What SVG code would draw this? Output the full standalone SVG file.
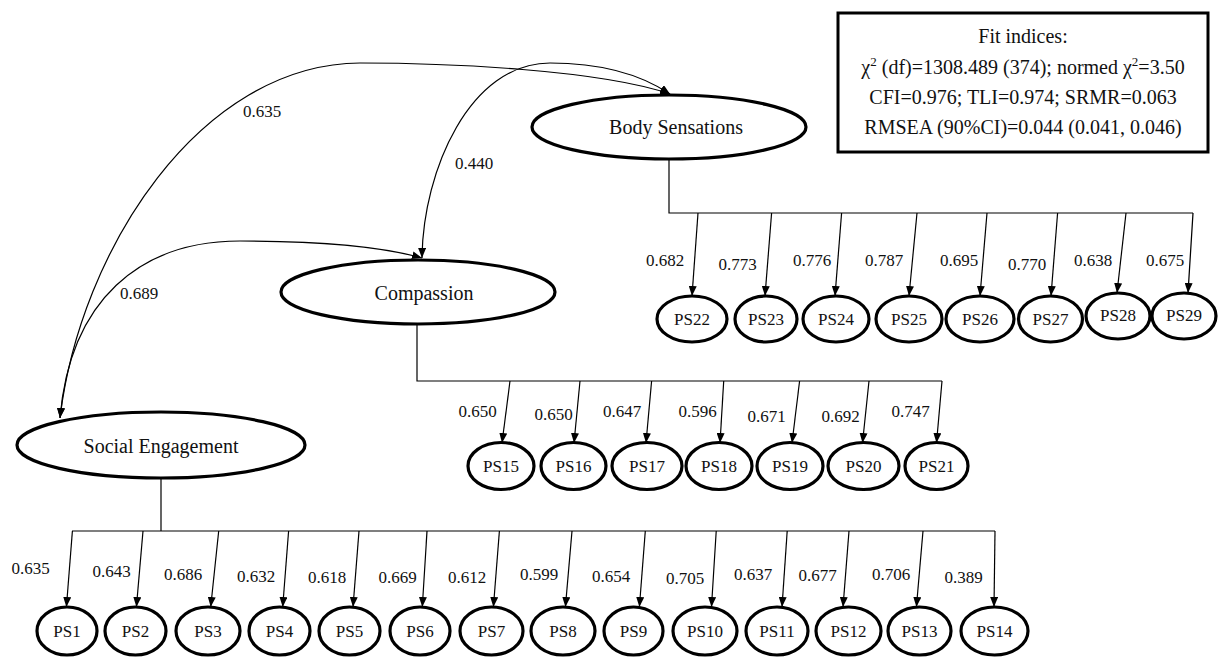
<svg xmlns="http://www.w3.org/2000/svg" width="1218" height="657" viewBox="0 0 1218 657">
<style>
text{font-family:"Liberation Serif","Times New Roman",serif;fill:#111}
.lat{fill:#fff;stroke:#000;stroke-width:3.2}
.obs{fill:#fff;stroke:#000;stroke-width:3.2}
.ln{fill:none;stroke:#000;stroke-width:1.2}
.lt{font-size:20px;text-anchor:middle}
.ot{font-size:17px;text-anchor:middle}
.ld{font-size:17px;text-anchor:middle}
.fit{font-size:20px;text-anchor:middle}
</style>
<defs>
<marker id="ah" viewBox="0 0 10 8" refX="10" refY="4" markerWidth="10" markerHeight="8" markerUnits="userSpaceOnUse" orient="auto-start-reverse">
<path d="M0,0 L10,4 L0,8 z" fill="#000"/>
</marker>
</defs>
<rect width="1218" height="657" fill="#fff"/>

<g id="fit-box">
<rect x="838" y="13" width="370" height="139" fill="#fff" stroke="#000" stroke-width="3"/>
<text class="fit" x="1023" y="43">Fit indices:</text>
<text class="fit" x="1023" y="74">χ<tspan font-size="13" dy="-8">2</tspan><tspan dy="8"> (df)=1308.489 (374); normed χ</tspan><tspan font-size="13" dy="-8">2</tspan><tspan dy="8">=3.50</tspan></text>
<text class="fit" x="1023" y="104">CFI=0.976; TLI=0.974; SRMR=0.063</text>
<text class="fit" x="1023" y="134">RMSEA (90%CI)=0.044 (0.041, 0.046)</text>
</g>

<g id="connectors">
<path class="ln" d="M60,418 C80,250 200,64 360,63 C450,63 600,70 670,94" marker-start="url(#ah)" marker-end="url(#ah)"/>
<path class="ln" d="M422,258 C423,170 470,63 550,63 C600,63 640,74 670,94" marker-start="url(#ah)" marker-end="url(#ah)"/>
<path class="ln" d="M60,418 C70,300 140,241 240,241 C320,241 380,246 422,258" marker-start="url(#ah)" marker-end="url(#ah)"/>
<text class="ld" x="262" y="117">0.635</text>
<text class="ld" x="474" y="169">0.440</text>
<text class="ld" x="139" y="299">0.689</text>

<path class="ln" d="M669,159 V213 H1193"/>
<line class="ln" x1="698" y1="213" x2="692" y2="296" marker-end="url(#ah)"/>
<line class="ln" x1="771.6" y1="213" x2="765" y2="296" marker-end="url(#ah)"/>
<line class="ln" x1="841.6" y1="213" x2="835" y2="296" marker-end="url(#ah)"/>
<line class="ln" x1="917" y1="213" x2="909" y2="296" marker-end="url(#ah)"/>
<line class="ln" x1="987" y1="213" x2="980" y2="296" marker-end="url(#ah)"/>
<line class="ln" x1="1057.6" y1="213" x2="1051" y2="296" marker-end="url(#ah)"/>
<line class="ln" x1="1126" y1="213" x2="1117" y2="293" marker-end="url(#ah)"/>
<line class="ln" x1="1193" y1="213" x2="1188" y2="293" marker-end="url(#ah)"/>
<text class="ld" x="665" y="266">0.682</text>
<text class="ld" x="737.5" y="270">0.773</text>
<text class="ld" x="812" y="266">0.776</text>
<text class="ld" x="884" y="266">0.787</text>
<text class="ld" x="959" y="266">0.695</text>
<text class="ld" x="1027" y="270">0.770</text>
<text class="ld" x="1093" y="266">0.638</text>
<text class="ld" x="1165" y="266">0.675</text>

<path class="ln" d="M417,324 V381 H942"/>
<line class="ln" x1="510" y1="381" x2="502" y2="443" marker-end="url(#ah)"/>
<line class="ln" x1="580" y1="381" x2="574" y2="443" marker-end="url(#ah)"/>
<line class="ln" x1="651.6" y1="381" x2="646" y2="443" marker-end="url(#ah)"/>
<line class="ln" x1="723.7" y1="381" x2="720" y2="443" marker-end="url(#ah)"/>
<line class="ln" x1="799.6" y1="381" x2="792" y2="443" marker-end="url(#ah)"/>
<line class="ln" x1="869" y1="381" x2="862.5" y2="443" marker-end="url(#ah)"/>
<line class="ln" x1="942" y1="381" x2="936.5" y2="443" marker-end="url(#ah)"/>
<text class="ld" x="477.5" y="417">0.650</text>
<text class="ld" x="553.5" y="420">0.650</text>
<text class="ld" x="622" y="417">0.647</text>
<text class="ld" x="697.5" y="417">0.596</text>
<text class="ld" x="766.5" y="422">0.671</text>
<text class="ld" x="840.5" y="422">0.692</text>
<text class="ld" x="910.5" y="417">0.747</text>

<path class="ln" d="M161,478 V531 M72,531 H995"/>
<line class="ln" x1="72.4" y1="531" x2="66.4" y2="607" marker-end="url(#ah)"/>
<line class="ln" x1="143" y1="531" x2="136.4" y2="607" marker-end="url(#ah)"/>
<line class="ln" x1="218.7" y1="531" x2="210.7" y2="607" marker-end="url(#ah)"/>
<line class="ln" x1="288.6" y1="531" x2="282.7" y2="607" marker-end="url(#ah)"/>
<line class="ln" x1="359" y1="531" x2="353" y2="607" marker-end="url(#ah)"/>
<line class="ln" x1="427" y1="531" x2="422.3" y2="607" marker-end="url(#ah)"/>
<line class="ln" x1="499.4" y1="531" x2="493.4" y2="607" marker-end="url(#ah)"/>
<line class="ln" x1="572" y1="531" x2="565.4" y2="607" marker-end="url(#ah)"/>
<line class="ln" x1="645.3" y1="531" x2="639.4" y2="607" marker-end="url(#ah)"/>
<line class="ln" x1="716.2" y1="531" x2="711.5" y2="607" marker-end="url(#ah)"/>
<line class="ln" x1="787.2" y1="531" x2="782" y2="607" marker-end="url(#ah)"/>
<line class="ln" x1="849" y1="531" x2="843" y2="607" marker-end="url(#ah)"/>
<line class="ln" x1="923" y1="531" x2="916.4" y2="607" marker-end="url(#ah)"/>
<line class="ln" x1="995" y1="531" x2="994" y2="607" marker-end="url(#ah)"/>
<text class="ld" x="30.6" y="574">0.635</text>
<text class="ld" x="111.7" y="577">0.643</text>
<text class="ld" x="183" y="580">0.686</text>
<text class="ld" x="256" y="582">0.632</text>
<text class="ld" x="327" y="583">0.618</text>
<text class="ld" x="397.5" y="583">0.669</text>
<text class="ld" x="467" y="583">0.612</text>
<text class="ld" x="539" y="580">0.599</text>
<text class="ld" x="611" y="582">0.654</text>
<text class="ld" x="685" y="584">0.705</text>
<text class="ld" x="753" y="580">0.637</text>
<text class="ld" x="817.5" y="581">0.677</text>
<text class="ld" x="891" y="580">0.706</text>
<text class="ld" x="963.6" y="583">0.389</text>
</g>

<g id="body-sensations"><ellipse class="lat" cx="669" cy="127" rx="137" ry="32"/><text class="lt" x="676" y="134">Body Sensations</text></g>
<g id="compassion"><ellipse class="lat" cx="418" cy="292" rx="137" ry="32"/><text class="lt" x="424" y="300">Compassion</text></g>
<g id="social-engagement"><ellipse class="lat" cx="161" cy="445" rx="144" ry="33"/><text class="lt" x="161" y="453">Social Engagement</text></g>

<g id="PS22"><ellipse class="obs" cx="692" cy="319" rx="35" ry="23"/><text class="ot" x="692" y="325">PS22</text></g>
<g id="PS23"><ellipse class="obs" cx="766" cy="319" rx="31" ry="23"/><text class="ot" x="766" y="325">PS23</text></g>
<g id="PS24"><ellipse class="obs" cx="836" cy="319" rx="33" ry="23"/><text class="ot" x="836" y="325">PS24</text></g>
<g id="PS25"><ellipse class="obs" cx="909" cy="319" rx="33" ry="23"/><text class="ot" x="909" y="325">PS25</text></g>
<g id="PS26"><ellipse class="obs" cx="980" cy="319" rx="34" ry="23"/><text class="ot" x="980" y="325">PS26</text></g>
<g id="PS27"><ellipse class="obs" cx="1050.5" cy="319" rx="32" ry="23"/><text class="ot" x="1050.5" y="325">PS27</text></g>
<g id="PS28"><ellipse class="obs" cx="1118" cy="316" rx="32" ry="23"/><text class="ot" x="1118" y="321">PS28</text></g>
<g id="PS29"><ellipse class="obs" cx="1184" cy="316" rx="32" ry="23"/><text class="ot" x="1184" y="321">PS29</text></g>

<g id="PS15"><ellipse class="obs" cx="501" cy="466" rx="33" ry="23.5"/><text class="ot" x="501" y="472">PS15</text></g>
<g id="PS16"><ellipse class="obs" cx="573.5" cy="466" rx="32.5" ry="23.5"/><text class="ot" x="573.5" y="472">PS16</text></g>
<g id="PS17"><ellipse class="obs" cx="647" cy="466" rx="35" ry="23.5"/><text class="ot" x="647" y="472">PS17</text></g>
<g id="PS18"><ellipse class="obs" cx="719" cy="466" rx="33" ry="23.5"/><text class="ot" x="719" y="472">PS18</text></g>
<g id="PS19"><ellipse class="obs" cx="790" cy="466" rx="33" ry="23.5"/><text class="ot" x="790" y="472">PS19</text></g>
<g id="PS20"><ellipse class="obs" cx="863.5" cy="466" rx="35.5" ry="23.5"/><text class="ot" x="863.5" y="472">PS20</text></g>
<g id="PS21"><ellipse class="obs" cx="936.5" cy="466" rx="31.5" ry="23.5"/><text class="ot" x="936.5" y="472">PS21</text></g>

<g id="PS1"><ellipse class="obs" cx="67" cy="631" rx="30" ry="24"/><text class="ot" x="67" y="637">PS1</text></g>
<g id="PS2"><ellipse class="obs" cx="135.5" cy="631" rx="30.5" ry="24"/><text class="ot" x="135.5" y="637">PS2</text></g>
<g id="PS3"><ellipse class="obs" cx="208" cy="631" rx="32" ry="24"/><text class="ot" x="208" y="637">PS3</text></g>
<g id="PS4"><ellipse class="obs" cx="279.5" cy="631" rx="30.5" ry="24"/><text class="ot" x="279.5" y="637">PS4</text></g>
<g id="PS5"><ellipse class="obs" cx="349.5" cy="631" rx="30.5" ry="24"/><text class="ot" x="349.5" y="637">PS5</text></g>
<g id="PS6"><ellipse class="obs" cx="420" cy="631" rx="30" ry="24"/><text class="ot" x="420" y="637">PS6</text></g>
<g id="PS7"><ellipse class="obs" cx="491.5" cy="631" rx="31.5" ry="24"/><text class="ot" x="491.5" y="637">PS7</text></g>
<g id="PS8"><ellipse class="obs" cx="563" cy="631" rx="32" ry="24"/><text class="ot" x="563" y="637">PS8</text></g>
<g id="PS9"><ellipse class="obs" cx="633.5" cy="631" rx="29.5" ry="24"/><text class="ot" x="633.5" y="637">PS9</text></g>
<g id="PS10"><ellipse class="obs" cx="705" cy="631" rx="32" ry="24"/><text class="ot" x="705" y="637">PS10</text></g>
<g id="PS11"><ellipse class="obs" cx="777" cy="631" rx="31" ry="24"/><text class="ot" x="777" y="637">PS11</text></g>
<g id="PS12"><ellipse class="obs" cx="848.5" cy="631" rx="32.5" ry="24"/><text class="ot" x="848.5" y="637">PS12</text></g>
<g id="PS13"><ellipse class="obs" cx="919.5" cy="631" rx="31.5" ry="24"/><text class="ot" x="919.5" y="637">PS13</text></g>
<g id="PS14"><ellipse class="obs" cx="994.5" cy="631" rx="33.5" ry="24"/><text class="ot" x="994.5" y="637">PS14</text></g>
</svg>
